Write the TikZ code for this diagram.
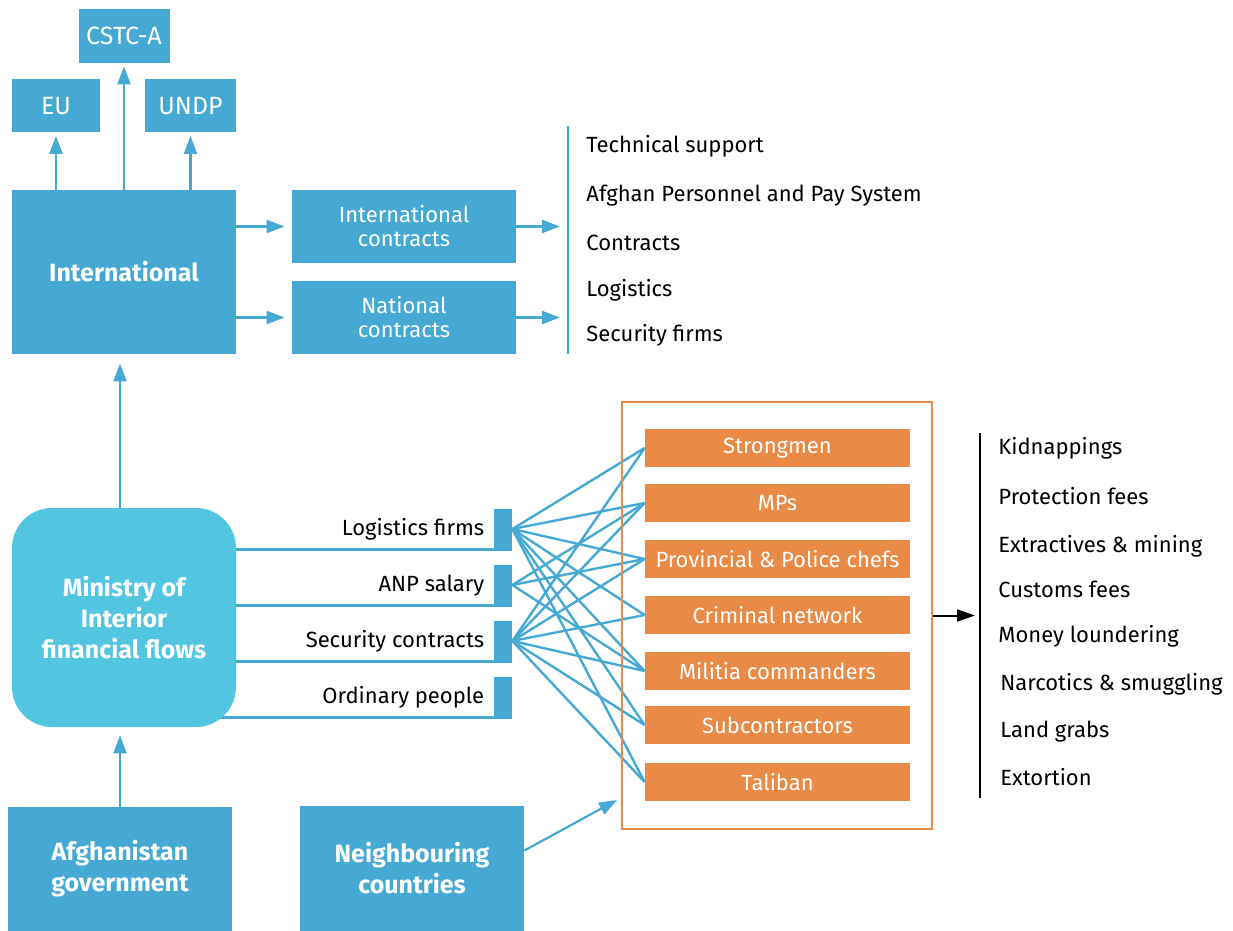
\documentclass[tikz,border=0pt]{standalone}
\usepackage{fontspec}
\setmainfont{Fira Sans}
\usepackage{tikz}
\usetikzlibrary{positioning, arrows.meta, backgrounds}
\definecolor{moiblue}{RGB}{69,169,211}
\definecolor{moicyan}{RGB}{82,198,225}
\definecolor{moiorange}{RGB}{233,138,71}

\begin{document}
\begin{tikzpicture}[x=0.5pt, y=-0.5pt,
  bluebox/.style={fill=moiblue, text=white, inner sep=0pt, align=center, font=\fontsize{11}{12}\selectfont},
  smallbox/.style={bluebox, font=\fontsize{12.5}{14}\selectfont},
  boldbox/.style={bluebox, font=\fontsize{12.5}{15.5}\selectfont\bfseries},
  orangebox/.style={fill=moiorange, text=white, inner sep=0pt, minimum width=132.5pt, minimum height=19pt, font=\fontsize{11}{12}\selectfont},
  tabbox/.style={fill=moiblue, inner sep=0pt, minimum width=9pt, minimum height=20pt},
  item/.style={anchor=west, inner sep=0pt, text height=8.5pt, text depth=2pt, font=\fontsize{11}{12}\selectfont},
  flow/.style={moiblue, line width=1.1pt, -{Triangle[length=9pt, width=6.5pt]}},
  link/.style={moiblue, line width=1.2pt},
  blackflow/.style={black, line width=1pt, -{Triangle[length=9pt, width=6pt]}}]
 \useasboundingbox (0,0) rectangle (1233,931);

 %international side
 \node[smallbox, minimum width=45.5pt, minimum height=27pt] (cstc) at (124,36) {CSTC-A};
 \node[smallbox, minimum width=44pt, minimum height=26.5pt] (eu) at (56,106) {EU};
 \node[smallbox, minimum width=45.5pt, minimum height=26.5pt] (undp) at (190.5,106) {UNDP};
 \node[boldbox, minimum width=112pt, minimum height=82pt] (intl) at (124,272) {International};
 \draw[flow, shorten >=1.5pt] (eu.south |- intl.north) -- (eu.south);
 \draw[flow, shorten >=1.5pt] (cstc.south |- intl.north) -- (cstc.south);
 \draw[flow, shorten >=1.5pt] (undp.south |- intl.north) -- (undp.south);

 \node[bluebox, minimum width=112pt, minimum height=36.5pt] (intcon) at (404,226.5) {International\\contracts};
 \node[bluebox, minimum width=112pt, minimum height=36.5pt] (natcon) at (404,317.5) {National\\contracts};
 \draw[flow, shorten >=3.5pt] (intl.east |- intcon.west) -- (intcon.west);
 \draw[flow, shorten >=3.5pt] (intl.east |- natcon.west) -- (natcon.west);

 \coordinate (bartop) at (568,126);
 \coordinate (barbot) at (568,354);
 \draw[link] (bartop) -- (barbot);
 \draw[flow, shorten >=4pt] (intcon.east) -- (intcon.east -| bartop);
 \draw[flow, shorten >=4pt] (natcon.east) -- (natcon.east -| bartop);

 \node[item] (tech) at (586,146) {Technical support};
 \node[item] (apps) at (586,195) {Afghan Personnel and Pay System};
 \node[item] (cont) at (586,244) {Contracts};
 \node[item] (logi) at (586,290) {Logistics};
 \node[item] (secf) at (586,335) {Security firms};

 %ministry and its flows
 \node[boldbox, fill=moicyan, rounded corners=20pt, minimum width=112pt, minimum height=109.5pt] (minis) at (124,617.5) {Ministry of\\Interior\\financial flows};
 \draw[flow, shorten >=4.5pt] ([xshift=-2pt]minis.north) -- ([xshift=-2pt]intl.south);

 \node[tabbox] (tlog) at (503,529) {};
 \node[tabbox] (tanp) at (503,585) {};
 \node[tabbox] (tsec) at (503,641) {};
 \node[tabbox] (tord) at (503,697) {};
 \begin{scope}[on background layer]
  \foreach \t in {tlog, tanp, tsec, tord}
   \draw[link] (minis.center |- \t.south) -- (\t.south east);
 \end{scope}
 \node[item, anchor=east, left=4.5pt of tlog] (llog) {Logistics firms};
 \node[item, anchor=east, left=4.5pt of tanp] (lanp) {ANP salary};
 \node[item, anchor=east, left=4.5pt of tsec] (lsec) {Security contracts};
 \node[item, anchor=east, left=4.5pt of tord] (lord) {Ordinary people};

 %power brokers
 \foreach \nm/\yy/\txt in {strong/448/Strongmen, mps/503/MPs, prov/559/Provincial \& Police chefs,
   crim/615/Criminal network, mili/671/Militia commanders, subc/725/Subcontractors, tali/782/Taliban}
  \node[orangebox] (\nm) at (777.5,\yy) {\txt};

 \foreach \s/\t in {tlog/strong, tlog/mps, tlog/prov, tlog/crim, tlog/mili, tlog/subc, tlog/tali,
   tanp/mps, tanp/prov, tanp/mili,
   tsec/strong, tsec/mps, tsec/prov, tsec/crim, tsec/mili, tsec/subc, tsec/tali}
  \draw[link] (\s.east) -- (\t.west);

 \node[draw=moiorange, line width=1pt, inner sep=0pt, minimum width=155pt, minimum height=213.5pt] (frame) at (776.5,615.5) {};

 \coordinate (rtop) at (980,433);
 \coordinate (rbot) at (980,798);
 \draw[black, line width=1.3pt] (rtop) -- (rbot);
 \draw[blackflow, shorten >=2.5pt] (frame.east) -- (frame.east -| rtop);

 \node[item] (kidn) at (998,448) {Kidnappings};
 \node[item] (prot) at (998,498) {Protection fees};
 \node[item] (extr) at (998,546) {Extractives \& mining};
 \node[item] (cust) at (998,591) {Customs fees};
 \node[item] (mone) at (998,636) {Money loundering};
 \node[item] (narc) at (1000,684) {Narcotics \& smuggling};
 \node[item] (land) at (1000,731) {Land grabs};
 \node[item] (exto) at (1000,779) {Extortion};

 %sources
 \node[boldbox, minimum width=112pt, minimum height=62pt] (afg) at (120,869) {Afghanistan\\government};
 \node[boldbox, minimum width=112pt, minimum height=62.5pt] (neigh) at (412,868.5) {Neighbouring\\countries};
 \draw[flow, shorten >=4pt] (afg.north) -- (afg.north |- minis.south);
 \coordinate (ntip) at (617,800);
 \draw[flow] ([yshift=9pt]neigh.east) -- (ntip);
\end{tikzpicture}
\end{document}
